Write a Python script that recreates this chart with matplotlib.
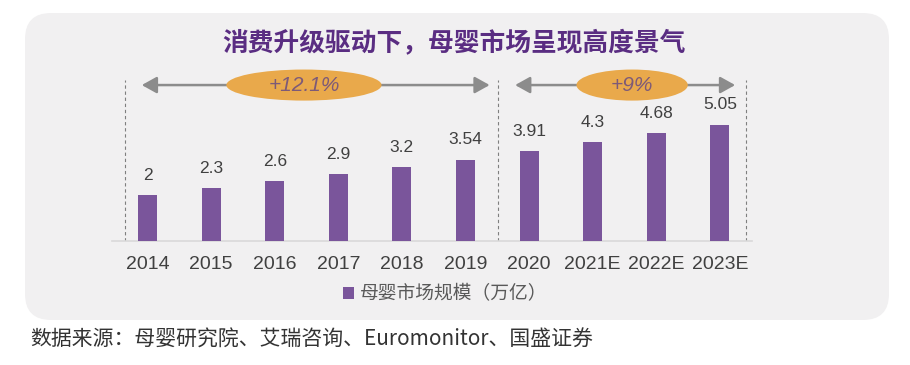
import matplotlib.pyplot as plt
from matplotlib.patches import FancyBboxPatch, Ellipse
from matplotlib import font_manager

years = ["2014", "2015", "2016", "2017", "2018", "2019", "2020", "2021E", "2022E", "2023E"]
market_size = [2, 2.3, 2.6, 2.9, 3.2, 3.54, 3.91, 4.3, 4.68, 5.05]
value_labels = ["2", "2.3", "2.6", "2.9", "3.2", "3.54", "3.91", "4.3", "4.68", "5.05"]
growth_labels = ["+12.1%", "+9%"]

title = "消费升级驱动下，母婴市场呈现高度景气"
legend_label = "母婴市场规模（万亿）"
source = "数据来源：母婴研究院、艾瑞咨询、Euromonitor、国盛证券"

cjk = ["Noto Sans CJK SC", "DejaVu Sans"]
names = {f.name for f in font_manager.fontManager.ttflist}
narrow = "Liberation Sans Narrow" if "Liberation Sans Narrow" in names else "Liberation Sans"

bar_color = "#7a559b"
text_color = "#404040"

W, H = 910, 365
fig = plt.figure(figsize=(W / 100, H / 100), dpi=100)
fig.patch.set_facecolor("white")

# background axes in pixel coordinates
bg = fig.add_axes([0, 0, 1, 1])
bg.set_xlim(0, W)
bg.set_ylim(H, 0)
bg.axis("off")
bg.add_patch(FancyBboxPatch((25, 13), 864, 307, boxstyle="round,pad=0,rounding_size=26",
                            facecolor="#f1f0f1", edgecolor="none"))
bg.text(454, 44, title, family=cjk, fontsize=18.5, fontweight="bold", color="#5a2d82",
        ha="center", va="center")
bg.text(30, 340, source, family=cjk, fontsize=15, color="#333333", ha="left", va="center")

# chart axes: bar centers at 147.5 + 63.6*i px, baseline at y=241 px, 23 px per unit
left_px, right_px = 112, 752
step = 63.6
x0 = (left_px - 147.5) / step
x1 = (right_px - 147.5) / step
top_px = 60
ax = fig.add_axes([left_px / W, (H - 241) / H, (right_px - left_px) / W, (241 - top_px) / H])
ax.set_xlim(x0, x1)
ax.set_ylim(0, (241 - top_px) / 23)
ax.patch.set_visible(False)
for s in ["top", "right", "left"]:
    ax.spines[s].set_visible(False)
ax.spines["bottom"].set_color("#d9d9d9")
ax.spines["bottom"].set_linewidth(1.2)
ax.set_yticks([])

xs = list(range(len(years)))
bars = ax.bar(xs, market_size, width=0.3, color=bar_color, label=legend_label, zorder=3)
for x, v, lab in zip(xs, market_size, value_labels):
    ax.annotate(lab, (x, v), xytext=(0, 9), textcoords="offset points", ha="center",
                va="bottom", family=narrow, fontsize=12.5, color=text_color)

ax.set_xticks(xs)
ax.set_xticklabels(years, family=narrow, fontsize=14, color=text_color)
ax.tick_params(axis="x", length=0, pad=11)

# period separators
for xd in [-0.354, 5.51, 9.41]:
    ax.plot([xd, xd], [0, 7.0], ls=(0, (3, 2.5)), color="#7f7f7f", lw=0.8, zorder=1)

# growth arrows with ellipse badges
arrow_y = 6.78
periods = [(-0.09, 5.38, 2.46, 2.44), (5.78, 9.24, 7.62, 1.75)]
for (a, b, cx, ew), lab in zip(periods, growth_labels):
    ax.annotate("", xy=(a, arrow_y), xytext=(b, arrow_y),
                arrowprops=dict(arrowstyle="<|-|>,head_length=0.9,head_width=0.5",
                                color="#8c8c8c", lw=1.8, shrinkA=0, shrinkB=0))
    ax.add_patch(Ellipse((cx, arrow_y), ew, 1.35, facecolor="#e9a94b", edgecolor="none", zorder=4))
    ax.text(cx, arrow_y, lab, ha="center", va="center", family=narrow, style="italic",
            fontsize=15, color="#7d5a78", zorder=5)

leg = fig.legend(handles=[bars], labels=[legend_label], loc="center", bbox_to_anchor=(445 / W, (H - 294) / H),
                 frameon=False, prop={"family": cjk, "size": 13.5}, handlelength=0.6,
                 handleheight=0.6, handletextpad=0.3)
for t in leg.get_texts():
    t.set_color("#595959")

fig.savefig("out.png", dpi=100, facecolor="white")
